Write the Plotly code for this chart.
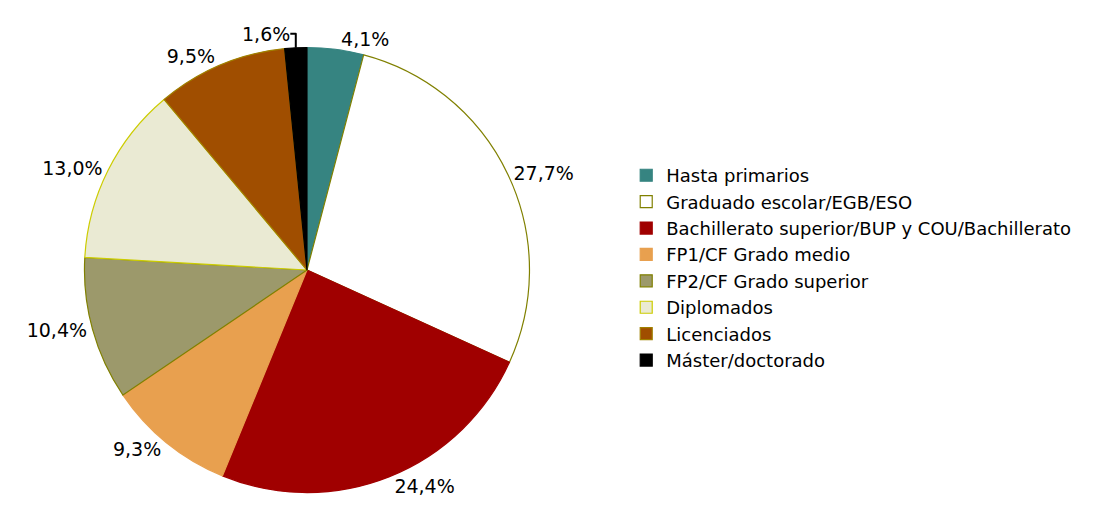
import plotly.graph_objects as go

categorias = [
    "Hasta primarios",
    "Graduado escolar/EGB/ESO",
    "Bachillerato superior/BUP y COU/Bachillerato",
    "FP1/CF Grado medio",
    "FP2/CF Grado superior",
    "Diplomados",
    "Licenciados",
    "Máster/doctorado",
]
porcentajes = [4.1, 27.7, 24.4, 9.3, 10.4, 13.0, 9.5, 1.6]
etiquetas = [f"{v:.1f}%".replace(".", ",") for v in porcentajes]

colores = ["#368481", "#FFFFFF", "#A00000", "#E8A04F", "#9C996B", "#EAEAD3", "#A04E00", "#000000"]
bordes = ["#368481", "#808000", "#A00000", "#E8A04F", "#808000", "#CCCC00", "#A08000", "#000000"]

fig = go.Figure()
fig.add_trace(go.Pie(
    labels=categorias,
    values=porcentajes,
    text=etiquetas,
    textinfo="text",
    textposition="outside",
    sort=False,
    direction="clockwise",
    rotation=0,
    marker=dict(colors=colores, line=dict(color=bordes, width=1.2)),
    textfont=dict(family="DejaVu Sans", size=19, color="#000000"),
    domain=dict(x=[0.01, 0.5326], y=[0.0628, 0.9236]),
    hoverinfo="label+percent",
))

fig.update_layout(
    width=1102,
    height=517,
    margin=dict(l=0, r=0, t=0, b=0, autoexpand=False),
    paper_bgcolor="white",
    plot_bgcolor="white",
    font=dict(family="DejaVu Sans", size=18, color="#000000"),
    legend=dict(
        x=0.561,
        y=0.497,
        xanchor="left",
        yanchor="middle",
        font=dict(size=18),
        tracegroupgap=0,
        itemwidth=30,
    ),
)

fig.write_html("out.html")
